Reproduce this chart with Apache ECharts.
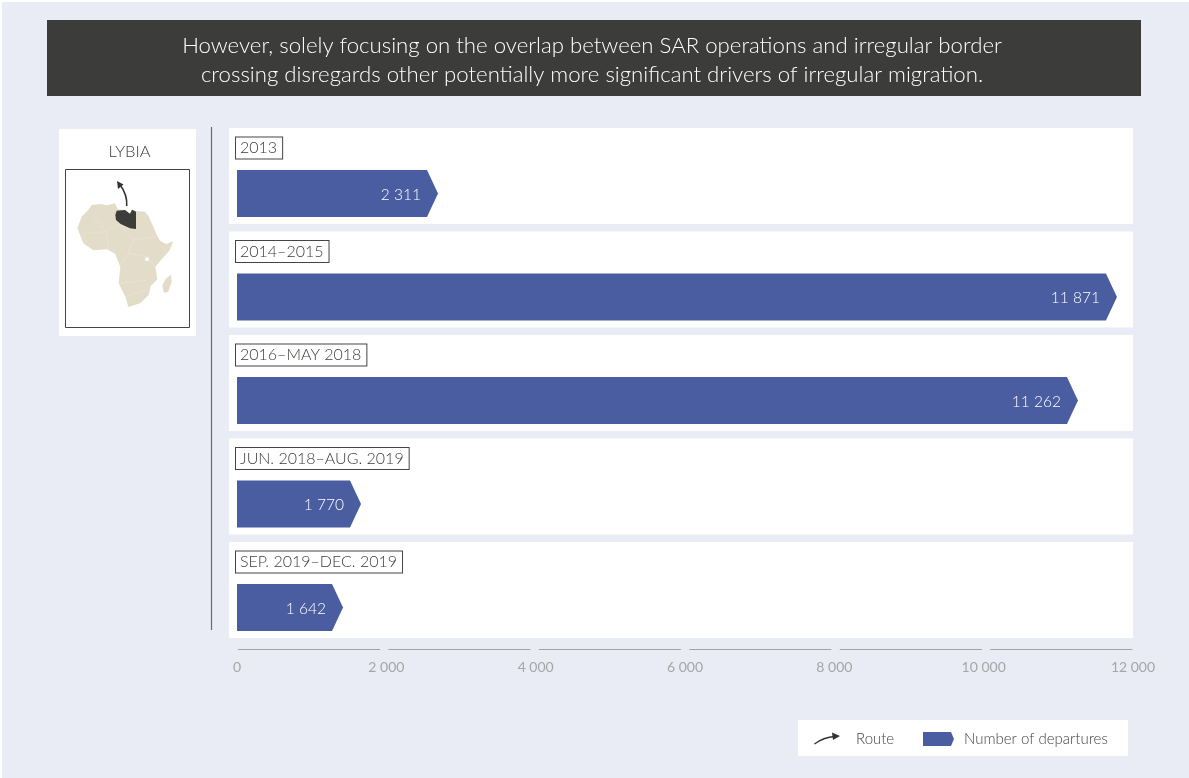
<!DOCTYPE html>
<html><head><meta charset="utf-8">
<style>html,body{margin:0;padding:0;background:#fff}#c{width:1189px;height:778px}</style>
<script src="https://cdn.jsdelivr.net/npm/echarts@6/dist/echarts.min.js"></script>
</head><body><div id="c"></div>
<script>
const periods = ['2013','2014–2015','2016–MAY 2018','JUN. 2018–AUG. 2019','SEP. 2019–DEC. 2019'];
const printedLabels = ['2 311','11 871','11 262','1 770','1 642'];
// Bar lengths as drawn in the reference
const drawnLengths = [2692,11785,11263,1661,1420];
const axisTicks = [0,2000,4000,6000,8000,10000,12000];
const FONT = 'Lato, "Open Sans", sans-serif';
const INK = '#3c3c3a', BLUE = '#4a5da0', BG = '#e9ecf5', SAND = '#e3dcc9';

// helpers for decorative map, coordinates from the crop of the inset
const mp = (pts) => pts.map(p => [50 + p[0]/3, 120 + p[1]/3]);
const africa = [[125,255],[150,252],[172,256],[195,250],[203,268],[225,270],[240,281],[246,269],[262,274],[285,275],[297,290],[305,310],[318,340],[330,362],[348,372],[370,364],[358,392],[335,418],[316,440],[322,478],[302,498],[296,525],[270,550],[235,561],[226,530],[206,490],[211,442],[196,402],[172,388],[130,391],[100,370],[82,325],[95,290],[115,270]];
const madagascar = [[363,464],[365,485],[355,515],[342,519],[337,497],[346,478]];
const libya = [[200,272],[225,270],[240,281],[246,269],[258,275],[258,327],[240,325],[212,312],[198,300],[196,285]];
const borders = [[[100,340],[170,335],[210,312]],[[170,335],[175,385]],[[210,312],[250,360],[320,350]],[[250,360],[235,400],[210,435]],[[235,400],[290,410],[316,440]],[[210,490],[290,480]],[[225,530],[290,510]],[[130,290],[170,335]]];

const graphic = [
  {type:'rect',z:-10,shape:{x:2,y:2,width:1187,height:776},style:{fill:BG}},
  {type:'rect',shape:{x:47,y:20,width:1094,height:76},style:{fill:INK}},
  {type:'text',style:{x:592,y:46,text:'However, solely focusing on the overlap between SAR operations and irregular border',align:'center',verticalAlign:'middle',fill:'#fff',font:'300 22.2px '+FONT}},
  {type:'text',style:{x:592,y:75,text:'crossing disregards other potentially more significant drivers of irregular migration.',align:'center',verticalAlign:'middle',fill:'#fff',font:'300 22.2px '+FONT}},
  {type:'rect',shape:{x:59,y:129,width:137,height:207},style:{fill:'#fff'}},
  {type:'text',style:{x:129.5,y:152,text:'LYBIA',align:'center',verticalAlign:'middle',fill:INK,font:'300 16.5px '+FONT}},
  {type:'rect',shape:{x:65.5,y:169.5,width:124,height:158},style:{fill:'#fff',stroke:'#444',lineWidth:1}},
  {type:'polygon',shape:{points:mp(africa)},style:{fill:SAND}},
  {type:'polygon',shape:{points:mp(madagascar)},style:{fill:SAND}},
  ...borders.map(b=>({type:'polyline',shape:{points:mp(b)},style:{stroke:'#ebe6d8',lineWidth:0.6,fill:null}})),
  {type:'circle',shape:{cx:50+291/3,cy:120+418/3,r:2},style:{fill:'#fff'}},
  {type:'polygon',shape:{points:mp(libya)},style:{fill:INK}},
  {type:'bezierCurve',shape:{x1:126.7,y1:206,cpx1:127.5,cpy1:197,cpx2:124,cpy2:190,x2:119.5,y2:184},style:{stroke:'#333',lineWidth:1.6,fill:null}},
  {type:'polygon',shape:{points:[[117,181],[123.5,184.5],[118,189]]},style:{fill:'#333'}},
  {type:'line',shape:{x1:211.5,y1:127,x2:211.5,y2:630},style:{stroke:'#6a6a6a',lineWidth:1.2}},
  {type:'rect',shape:{x:798,y:720,width:330,height:36},style:{fill:'#fff'}},
  {type:'bezierCurve',shape:{x1:814.5,y1:744,cpx1:821,cpy1:739,cpx2:828,cpy2:737,x2:835,y2:736.5},style:{stroke:'#333',lineWidth:1.5,fill:null}},
  {type:'polygon',shape:{points:[[840,736],[832,732.5],[833,740]]},style:{fill:'#333'}},
  {type:'text',style:{x:856,y:739,text:'Route',verticalAlign:'middle',fill:'#444',font:'300 15px '+FONT}},
  {type:'polygon',shape:{points:[[923,732],[951,732],[954,739],[951,746],[923,746]]},style:{fill:BLUE}},
  {type:'text',style:{x:964,y:739,text:'Number of departures',verticalAlign:'middle',fill:'#444',font:'300 15px '+FONT}}
];

const chart = echarts.init(document.getElementById('c'),null,{renderer:'canvas'});
chart.setOption({
  animation:false,
  backgroundColor:'transparent',
  graphic:{elements:graphic},
  grid:{left:237,right:56,top:124.25,height:517.5},
  xAxis:{type:'value',min:0,max:12000,interval:2000,
    axisLine:{show:false},axisTick:{show:false},splitLine:{show:false},
    axisLabel:{margin:19,color:'#a6a6a6',fontFamily:FONT,fontWeight:400,fontSize:14,
      formatter:v=>String(v).replace(/\B(?=(\d{3})+$)/g,' ')}},
  yAxis:{type:'category',inverse:true,data:periods,axisLine:{show:false},axisTick:{show:false},axisLabel:{show:false},splitLine:{show:false}},
  series:[
    {type:'custom',name:'Period',silent:true,clip:false,z:1,
     data:periods.map((p,i)=>[0,i]),
     renderItem(params,api){
       const c=api.coord([0,api.value(1)]);
       const r=params.coordSys;
       return {type:'group',children:[
         {type:'rect',shape:{x:c[0]-8,y:c[1]-48,width:r.width+8,height:96},style:{fill:'#fff'}},
         {type:'text',style:{x:c[0]-1,y:c[1]-28,text:periods[params.dataIndex],verticalAlign:'middle',
           fill:INK,font:'300 16px '+FONT,backgroundColor:'#fff',borderColor:'#444',borderWidth:1,padding:[3,5,2,4]}}
       ]};
     }},
    {type:'custom',name:'Number of departures',silent:true,clip:false,z:2,
     data:drawnLengths.map((v,i)=>[v,i]),
     renderItem(params,api){
       const c0=api.coord([0,api.value(1)]), c1=api.coord([api.value(0),api.value(1)]);
       const h=47, tip=11, cy=c0[1]+17.5, end=c1[0];
       return {type:'group',children:[
         {type:'polygon',shape:{points:[[c0[0],cy-h/2],[end-tip,cy-h/2],[end,cy],[end-tip,cy+h/2],[c0[0],cy+h/2]]},style:{fill:BLUE}},
         {type:'text',style:{x:end-tip-6,y:cy+1,text:printedLabels[params.dataIndex],align:'right',verticalAlign:'middle',fill:'#fff',font:'300 15.5px '+FONT}}
       ]};
     }},
    {type:'custom',name:'Axis',silent:true,clip:false,z:1,
     data:axisTicks.slice(0,-1).map((v,i)=>[v,axisTicks[i+1]]),
     renderItem(params,api){
       const x0=params.coordSys.x;
       const a=api.coord([api.value(0),0])[0], b=api.coord([api.value(1),0])[0];
       const y=Math.round(params.coordSys.y+params.coordSys.height+7)+0.5;
       const x1=x0+(a-x0)*1.0075+1;
       return {type:'line',shape:{x1:x1,y1:y,x2:x1+(b-a)*0.951,y2:y},style:{stroke:'#a3a3a3',lineWidth:1}};
     }}
  ]
});
</script></body></html>
